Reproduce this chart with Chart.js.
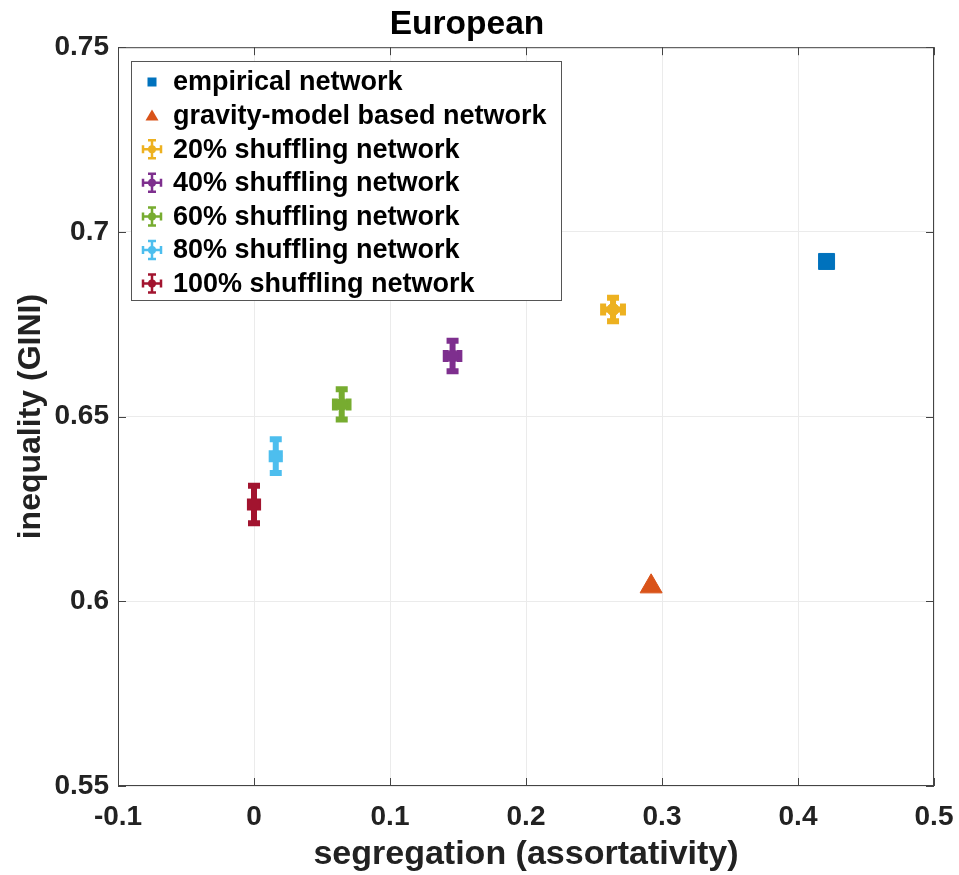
<!DOCTYPE html>
<html lang="en">
<head>
  <meta charset="UTF-8" />
  <title>European</title>
  <script src="https://cdn.jsdelivr.net/npm/chart.js"></script>
  <style>
    body {
      margin: 0;
      background: #fff;
    }
    .chart-container {
      width: 959px;
      height: 875px;
    }
  </style>
</head>
<body>

  <div class="chart-container">
    <canvas id="scatterChart"></canvas>
  </div>

  <script>
    // values
    const seriesNames = [
      'empirical network',
      'gravity-model based network',
      '20% shuffling network',
      '40% shuffling network',
      '60% shuffling network',
      '80% shuffling network',
      '100% shuffling network'
    ];
    const segregation = [0.421, 0.292, 0.264, 0.146, 0.0645, 0.016, 0.0];
    const inequality = [0.692, 0.604, 0.679, 0.6664, 0.6533, 0.6393, 0.6262];
    const segregationErr = [null, null, 0.0073, 0.005, 0.005, 0.003, 0.003];
    const inequalityErr = [null, null, 0.0032, 0.0041, 0.0041, 0.0046, 0.0051];
    const xTicks = [-0.1, 0, 0.1, 0.2, 0.3, 0.4, 0.5];
    const yTicks = [0.55, 0.6, 0.65, 0.7, 0.75];

    const colors = ['#0072BD', '#D95319', '#EDB120', '#7E2F8E', '#77AC30', '#4DBEEE', '#A2142F'];
    const shapes = ['rect', 'triangle', 'circle', 'circle', 'circle', 'circle', 'circle'];
    const sizes = [11.3, 12.7, 6, 6, 6, 6, 6];
    const fontFamily = '"Liberation Sans", Arial, sans-serif';

    const datasets = seriesNames.map((name, i) => ({
      label: name,
      data: [{ x: segregation[i], y: inequality[i] }],
      xErr: segregationErr[i],
      yErr: inequalityErr[i],
      pointStyle: shapes[i],
      pointRadius: sizes[i],
      pointHoverRadius: sizes[i],
      backgroundColor: colors[i],
      borderColor: colors[i],
      borderWidth: 1
    }));

    // error bars, through the scales
    const errorBars = {
      id: 'errorBars',
      beforeDatasetsDraw(chart) {
        const { ctx, scales: { x, y } } = chart;
        ctx.save();
        ctx.lineCap = 'butt';
        chart.data.datasets.forEach(ds => {
          if (ds.yErr == null) return;
          const p = ds.data[0];
          const px = x.getPixelForValue(p.x);
          const py = y.getPixelForValue(p.y);
          const top = y.getPixelForValue(p.y + ds.yErr);
          const bot = y.getPixelForValue(p.y - ds.yErr);
          const lft = x.getPixelForValue(p.x - ds.xErr);
          const rgt = x.getPixelForValue(p.x + ds.xErr);
          ctx.strokeStyle = ds.borderColor;
          ctx.lineWidth = 6;
          ctx.beginPath();
          ctx.moveTo(px, top); ctx.lineTo(px, bot);
          ctx.moveTo(px - 6, top); ctx.lineTo(px + 6, top);
          ctx.moveTo(px - 6, bot); ctx.lineTo(px + 6, bot);
          ctx.moveTo(lft, py); ctx.lineTo(rgt, py);
          ctx.moveTo(lft, py - 6); ctx.lineTo(lft, py + 6);
          ctx.moveTo(rgt, py - 6); ctx.lineTo(rgt, py + 6);
          ctx.stroke();
        });
        ctx.restore();
      }
    };

    // axes box, inward ticks and the legend box
    const boxAndLegend = {
      id: 'boxAndLegend',
      afterDraw(chart) {
        const { ctx, chartArea: a, scales: { x, y } } = chart;
        ctx.save();
        ctx.strokeStyle = '#444';
        ctx.lineWidth = 1;
        ctx.strokeRect(a.left + 0.5, a.top + 0.5, a.right - a.left - 1, a.bottom - a.top - 1);
        ctx.beginPath();
        xTicks.forEach(v => {
          const px = Math.round(x.getPixelForValue(v)) + 0.5;
          ctx.moveTo(px, a.bottom); ctx.lineTo(px, a.bottom - 8);
          ctx.moveTo(px, a.top); ctx.lineTo(px, a.top + 8);
        });
        yTicks.forEach(v => {
          const py = Math.round(y.getPixelForValue(v)) + 0.5;
          ctx.moveTo(a.left, py); ctx.lineTo(a.left + 8, py);
          ctx.moveTo(a.right, py); ctx.lineTo(a.right - 8, py);
        });
        ctx.stroke();

        // legend
        const lx = 131.5, ly = 61.5, lw = 430, lh = 239, rowH = 33.6;
        ctx.fillStyle = '#fff';
        ctx.fillRect(lx, ly, lw, lh);
        ctx.strokeStyle = '#555';
        ctx.strokeRect(lx, ly, lw, lh);
        ctx.font = 'bold 27px ' + fontFamily;
        ctx.textBaseline = 'middle';
        chart.data.datasets.forEach((ds, i) => {
          const cy = 82 + i * rowH;
          const cx = 152;
          ctx.fillStyle = ds.backgroundColor;
          ctx.strokeStyle = ds.borderColor;
          if (ds.pointStyle === 'rect') {
            ctx.fillRect(cx - 4.5, cy - 4.5, 9, 9);
          } else if (ds.pointStyle === 'triangle') {
            ctx.beginPath();
            ctx.moveTo(cx, cy - 6); ctx.lineTo(cx + 6.5, cy + 5); ctx.lineTo(cx - 6.5, cy + 5);
            ctx.closePath(); ctx.fill();
          } else {
            ctx.lineWidth = 2.5;
            ctx.beginPath();
            ctx.moveTo(cx - 9, cy); ctx.lineTo(cx + 9, cy);
            ctx.moveTo(cx, cy - 9); ctx.lineTo(cx, cy + 9);
            ctx.moveTo(cx - 9, cy - 4); ctx.lineTo(cx - 9, cy + 4);
            ctx.moveTo(cx + 9, cy - 4); ctx.lineTo(cx + 9, cy + 4);
            ctx.moveTo(cx - 4, cy - 9); ctx.lineTo(cx + 4, cy - 9);
            ctx.moveTo(cx - 4, cy + 9); ctx.lineTo(cx + 4, cy + 9);
            ctx.stroke();
            ctx.beginPath();
            ctx.arc(cx, cy, 4, 0, Math.PI * 2);
            ctx.fill();
          }
          ctx.fillStyle = '#000';
          ctx.fillText(ds.label, 173, cy + 1);
        });
        ctx.restore();
      }
    };

    const ctx = document.getElementById('scatterChart').getContext('2d');
    const chart = new Chart(ctx, {
      type: 'scatter',
      data: { datasets: datasets },
      options: {
        responsive: true,
        maintainAspectRatio: false,
        animation: false,
        layout: { padding: { left: 0, right: 25, top: 0, bottom: 0 } },
        plugins: {
          legend: { display: false },
          tooltip: { enabled: false },
          title: {
            display: true,
            text: 'European',
            color: '#000',
            font: { family: fontFamily, size: 33.5, weight: 'bold' },
            padding: { top: 5, bottom: 2 }
          }
        },
        scales: {
          x: {
            type: 'linear',
            min: -0.1,
            max: 0.5,
            afterBuildTicks: s => { s.ticks = xTicks.map(v => ({ value: v })); },
            afterFit: s => { s.height = 89; s.paddingLeft = 0; s.paddingRight = 0; },
            grid: { color: '#ebebeb', drawTicks: false },
            border: { display: false },
            ticks: {
              color: '#222',
              padding: 14,
              font: { family: fontFamily, size: 28, weight: 'bold' },
              callback: v => String(Math.round(v * 10) / 10)
            },
            title: {
              display: true,
              text: 'segregation (assortativity)',
              color: '#222',
              font: { family: fontFamily, size: 34, weight: 'bold', lineHeight: 1.18 },
              padding: 0
            }
          },
          y: {
            type: 'linear',
            min: 0.55,
            max: 0.75,
            afterBuildTicks: s => { s.ticks = yTicks.map(v => ({ value: v })); },
            afterFit: s => { s.width = 118; },
            grid: { color: '#ebebeb', drawTicks: false },
            border: { display: false },
            ticks: {
              color: '#222',
              padding: 9,
              font: { family: fontFamily, size: 28, weight: 'bold' },
              callback: v => String(Math.round(v * 100) / 100)
            },
            title: {
              display: true,
              text: 'inequality (GINI)',
              color: '#222',
              font: { family: fontFamily, size: 32, weight: 'bold' },
              padding: { top: 12, bottom: 0 }
            }
          }
        }
      },
      plugins: [errorBars, boxAndLegend]
    });
  </script>

</body>
</html>
